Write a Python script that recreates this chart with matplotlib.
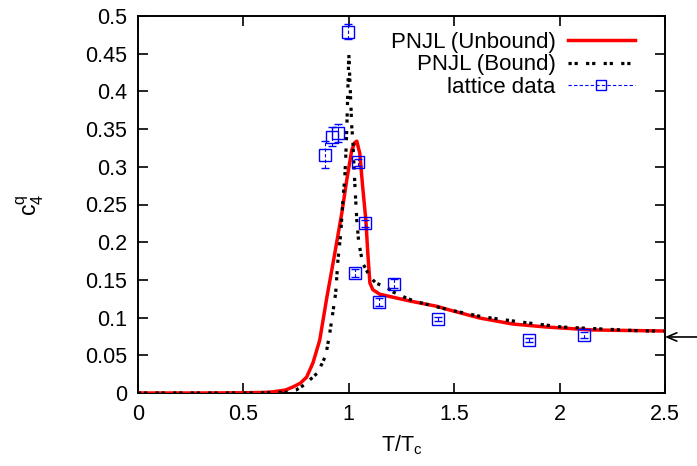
import matplotlib
matplotlib.use("Agg")
import matplotlib.pyplot as plt
from matplotlib.lines import Line2D

plt.rcParams['font.family'] = ['Liberation Sans', 'DejaVu Sans']
plt.rcParams['mathtext.fontset'] = 'custom'
plt.rcParams['mathtext.rm'] = 'Liberation Sans'
plt.rcParams['mathtext.it'] = 'Liberation Sans'

# PNJL (Unbound)
x_unbound = [0.0, 0.3, 0.5, 0.6, 0.64, 0.7, 0.735, 0.77, 0.80, 0.83, 0.862, 0.896,
             0.934, 0.967, 0.990, 1.014, 1.028, 1.038, 1.052, 1.066, 1.081, 1.09,
             1.10, 1.114, 1.147, 1.21, 1.29, 1.417, 1.479, 1.62, 1.777, 1.938,
             2.156, 2.5]
y_unbound = [0.0, 0.0, 0.0003, 0.0008, 0.0015, 0.004, 0.008, 0.013, 0.021, 0.040,
             0.070, 0.127, 0.186, 0.239, 0.282, 0.322, 0.332, 0.334, 0.318, 0.273,
             0.229, 0.186, 0.146, 0.137, 0.131, 0.127, 0.122, 0.115, 0.110, 0.0995,
             0.0915, 0.0875, 0.0836, 0.0822]

# PNJL (Bound)
x_bound = [0.0, 0.4, 0.6, 0.706, 0.75, 0.79, 0.853, 0.891, 0.91, 0.924, 0.938,
           0.948, 0.962, 0.972, 0.981, 0.986, 0.991, 1.0, 1.014, 1.019, 1.028,
           1.038, 1.047, 1.066, 1.08, 1.10, 1.128, 1.185, 1.21, 1.265, 1.30,
           1.35, 1.464, 1.635, 1.82, 2.01, 2.2, 2.38, 2.5]
y_bound = [0.0, 0.0, 0.0002, 0.001, 0.004, 0.011, 0.027, 0.050, 0.080, 0.106, 0.133,
           0.175, 0.212, 0.256, 0.286, 0.316, 0.355, 0.45, 0.353, 0.336, 0.28,
           0.229, 0.200, 0.172, 0.165, 0.154, 0.146, 0.139, 0.134, 0.127, 0.123,
           0.119, 0.111, 0.101, 0.094, 0.0875, 0.0849, 0.0825, 0.082]

# lattice data
x_lat = [0.886, 0.919, 0.948, 0.995, 1.028, 1.043, 1.076, 1.142, 1.213, 1.422, 1.853, 2.118]
y_lat = [0.316, 0.340, 0.345, 0.479, 0.159, 0.306, 0.225, 0.121, 0.145, 0.098, 0.070, 0.077]
e_lat = [0.018, 0.013, 0.012, 0.010, 0.005, 0.005, 0.005, 0.005, 0.006, 0.003, 0.003, 0.004]

sb_limit = 0.0743

fig = plt.figure(figsize=(6.97, 4.66), dpi=100)
ax = fig.add_axes([138/697, 73/466, (665-138)/697, (393-16)/466])

ax.plot(x_unbound, y_unbound, color='#ff0000', lw=2.5, zorder=3)
ax.plot(x_bound, y_bound, color='black', lw=2.3, linestyle=(0, (1, 0.9, 1, 2.6)), zorder=4)

eb = ax.errorbar(x_lat, y_lat, yerr=e_lat, fmt='s', mfc='none', mec='#0000ff', ms=9,
                 mew=1.0, ecolor='#0000ff', elinewidth=0.8, capsize=3, capthick=0.8,
                 zorder=5)
eb[2][0].set_linestyle((0, (3, 2)))

ax.annotate('', xy=(2.5, sb_limit), xytext=(2.655, sb_limit),
            arrowprops=dict(arrowstyle='->,head_length=0.7,head_width=0.3',
                            color='black', lw=1.2, shrinkA=0, shrinkB=0),
            annotation_clip=False)

ax.set_xlim(0, 2.5)
ax.set_ylim(0, 0.5)
ax.set_xticks([0, 0.5, 1, 1.5, 2, 2.5])
ax.set_xticklabels(['0', '0.5', '1', '1.5', '2', '2.5'])
yt = [0, 0.05, 0.1, 0.15, 0.2, 0.25, 0.3, 0.35, 0.4, 0.45, 0.5]
ax.set_yticks(yt)
ax.set_yticklabels(['0', '0.05', '0.1', '0.15', '0.2', '0.25', '0.3', '0.35', '0.4', '0.45', '0.5'])
ax.tick_params(direction='in', length=7, width=1.2, top=True, right=True,
               labelsize=15.5, pad=8)
for s in ax.spines.values():
    s.set_linewidth(1.4)

ax.set_xlabel(r'T/T$_\mathrm{c}$', fontsize=15.5, labelpad=6)
ax.set_ylabel(r'c$_\mathrm{4}^{\mathrm{q}}$', fontsize=16.5, labelpad=28)

h_unb = Line2D([], [], color='#ff0000', lw=2.5)
h_bnd = Line2D([], [], color='black', lw=2.3, linestyle=(0, (1, 0.9, 1, 2.6)))
h_lat = Line2D([], [], color='#0000ff', lw=0.8, linestyle=(0, (3, 2)), marker='s',
               mfc='none', mec='#0000ff', ms=7, mew=1.0)
leg = ax.legend([h_unb, h_bnd, h_lat], ['PNJL (Unbound)', 'PNJL (Bound)', 'lattice data'],
                loc='upper right', frameon=False, markerfirst=False, fontsize=16,
                handlelength=3.0, handletextpad=0.55, labelspacing=0.08,
                borderaxespad=0.3, bbox_to_anchor=(0.972, 1.0))
for t in leg.get_texts():
    t.set_ha('right')
leg._legend_box.align = 'right'

fig.savefig('out.png', dpi=100)
